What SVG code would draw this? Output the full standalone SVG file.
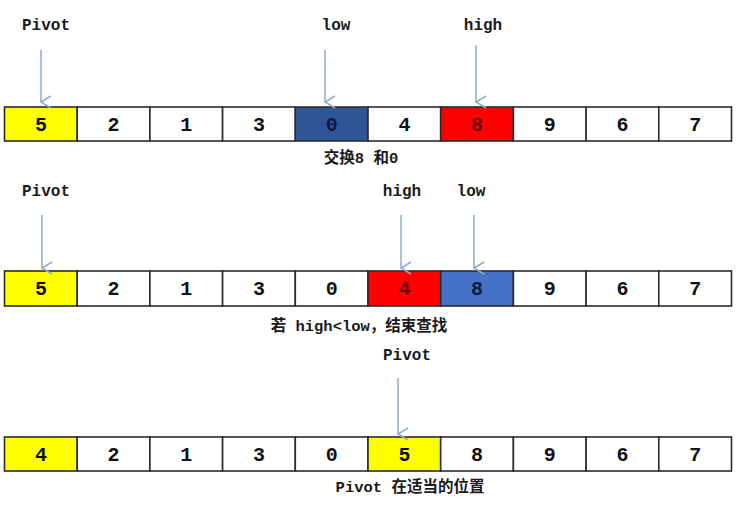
<svg xmlns="http://www.w3.org/2000/svg" width="736" height="506" viewBox="0 0 736 506">
<defs>
<style>
.cell{stroke:#2b2b2b;stroke-width:1.6}
.w{fill:#ffffff}
.y{fill:#ffff00}
.r{fill:#ff0000}
.db{fill:#2f5597}
.mb{fill:#4472c4}
.num{font-family:"Liberation Mono","Noto Sans CJK SC",monospace;font-weight:bold;font-size:20px;fill:#111;text-anchor:middle}
.num.rt{fill:#6a0000}
.num.bt{fill:#0b1a44}
.lbl{font-family:"Liberation Mono","Noto Sans CJK SC",monospace;font-weight:bold;font-size:16px;fill:#1a1a1a;text-anchor:middle}
.cap{font-family:"Liberation Mono","Noto Sans CJK SC",monospace;font-weight:bold;font-size:15.5px;fill:#1a1a1a;text-anchor:middle}
.arr{stroke:#8eaacc;stroke-width:1.5;fill:none}
</style>
<marker id="ah" viewBox="0 0 14 14" refX="7" refY="13" markerWidth="14" markerHeight="14" markerUnits="userSpaceOnUse" orient="auto-start-reverse">
<polyline points="1,3 7,13 13,3" fill="none" stroke="#8eaacc" stroke-width="1.5"/>
</marker>
</defs>
<rect width="736" height="506" fill="#ffffff"/>

<g id="row1">
<rect class="cell y" x="4.5" y="107" width="72.7" height="34"/>
<rect class="cell w" x="77.2" y="107" width="72.7" height="34"/>
<rect class="cell w" x="149.9" y="107" width="72.7" height="34"/>
<rect class="cell w" x="222.6" y="107" width="72.7" height="34"/>
<rect class="cell db" x="295.3" y="107" width="72.7" height="34"/>
<rect class="cell w" x="368" y="107" width="72.7" height="34"/>
<rect class="cell r" x="440.7" y="107" width="72.7" height="34"/>
<rect class="cell w" x="513.4" y="107" width="72.7" height="34"/>
<rect class="cell w" x="586.1" y="107" width="72.7" height="34"/>
<rect class="cell w" x="658.8" y="107" width="72.7" height="34"/>
<text class="num" x="40.9" y="131">5</text>
<text class="num" x="113.6" y="131">2</text>
<text class="num" x="186.3" y="131">1</text>
<text class="num" x="259" y="131">3</text>
<text class="num bt" x="331.7" y="131">0</text>
<text class="num" x="404.4" y="131">4</text>
<text class="num rt" x="477.1" y="131">8</text>
<text class="num" x="549.8" y="131">9</text>
<text class="num" x="622.5" y="131">6</text>
<text class="num" x="695.2" y="131">7</text>
</g>

<g id="row2">
<rect class="cell y" x="4.5" y="271" width="72.7" height="35"/>
<rect class="cell w" x="77.2" y="271" width="72.7" height="35"/>
<rect class="cell w" x="149.9" y="271" width="72.7" height="35"/>
<rect class="cell w" x="222.6" y="271" width="72.7" height="35"/>
<rect class="cell w" x="295.3" y="271" width="72.7" height="35"/>
<rect class="cell r" x="368" y="271" width="72.7" height="35"/>
<rect class="cell mb" x="440.7" y="271" width="72.7" height="35"/>
<rect class="cell w" x="513.4" y="271" width="72.7" height="35"/>
<rect class="cell w" x="586.1" y="271" width="72.7" height="35"/>
<rect class="cell w" x="658.8" y="271" width="72.7" height="35"/>
<text class="num" x="40.9" y="295">5</text>
<text class="num" x="113.6" y="295">2</text>
<text class="num" x="186.3" y="295">1</text>
<text class="num" x="259" y="295">3</text>
<text class="num" x="331.7" y="295">0</text>
<text class="num rt" x="404.4" y="295">4</text>
<text class="num bt" x="477.1" y="295">8</text>
<text class="num" x="549.8" y="295">9</text>
<text class="num" x="622.5" y="295">6</text>
<text class="num" x="695.2" y="295">7</text>
</g>

<g id="row3">
<rect class="cell y" x="4.5" y="437" width="72.7" height="34"/>
<rect class="cell w" x="77.2" y="437" width="72.7" height="34"/>
<rect class="cell w" x="149.9" y="437" width="72.7" height="34"/>
<rect class="cell w" x="222.6" y="437" width="72.7" height="34"/>
<rect class="cell w" x="295.3" y="437" width="72.7" height="34"/>
<rect class="cell y" x="368" y="437" width="72.7" height="34"/>
<rect class="cell w" x="440.7" y="437" width="72.7" height="34"/>
<rect class="cell w" x="513.4" y="437" width="72.7" height="34"/>
<rect class="cell w" x="586.1" y="437" width="72.7" height="34"/>
<rect class="cell w" x="658.8" y="437" width="72.7" height="34"/>
<text class="num" x="40.9" y="461">4</text>
<text class="num" x="113.6" y="461">2</text>
<text class="num" x="186.3" y="461">1</text>
<text class="num" x="259" y="461">3</text>
<text class="num" x="331.7" y="461">0</text>
<text class="num" x="404.4" y="461">5</text>
<text class="num" x="477.1" y="461">8</text>
<text class="num" x="549.8" y="461">9</text>
<text class="num" x="622.5" y="461">6</text>
<text class="num" x="695.2" y="461">7</text>
</g>

<g id="labels">
<text class="lbl" x="46" y="30">Pivot</text>
<text class="lbl" x="336" y="30">low</text>
<text class="lbl" x="483" y="30">high</text>
<text class="lbl" x="46" y="196">Pivot</text>
<text class="lbl" x="402" y="196">high</text>
<text class="lbl" x="471" y="196">low</text>
<text class="lbl" x="407" y="360">Pivot</text>
</g>

<g id="captions">
<text class="cap" x="361" y="163">交换8 和0</text>
<text class="cap" x="359" y="331">若 high&lt;low，结束查找</text>
<text class="cap" x="410" y="492">Pivot 在适当的位置</text>
</g>

<g id="connectors">
<line class="arr" x1="41" y1="50" x2="41" y2="102" marker-end="url(#ah)"/>
<line class="arr" x1="325" y1="50" x2="325" y2="102" marker-end="url(#ah)"/>
<line class="arr" x1="476" y1="45" x2="476" y2="102" marker-end="url(#ah)"/>
<line class="arr" x1="42" y1="215" x2="42" y2="268" marker-end="url(#ah)"/>
<line class="arr" x1="401" y1="215" x2="401" y2="268" marker-end="url(#ah)"/>
<line class="arr" x1="474" y1="215" x2="474" y2="268" marker-end="url(#ah)"/>
<line class="arr" x1="398" y1="378" x2="398" y2="434" marker-end="url(#ah)"/>
</g>
</svg>
